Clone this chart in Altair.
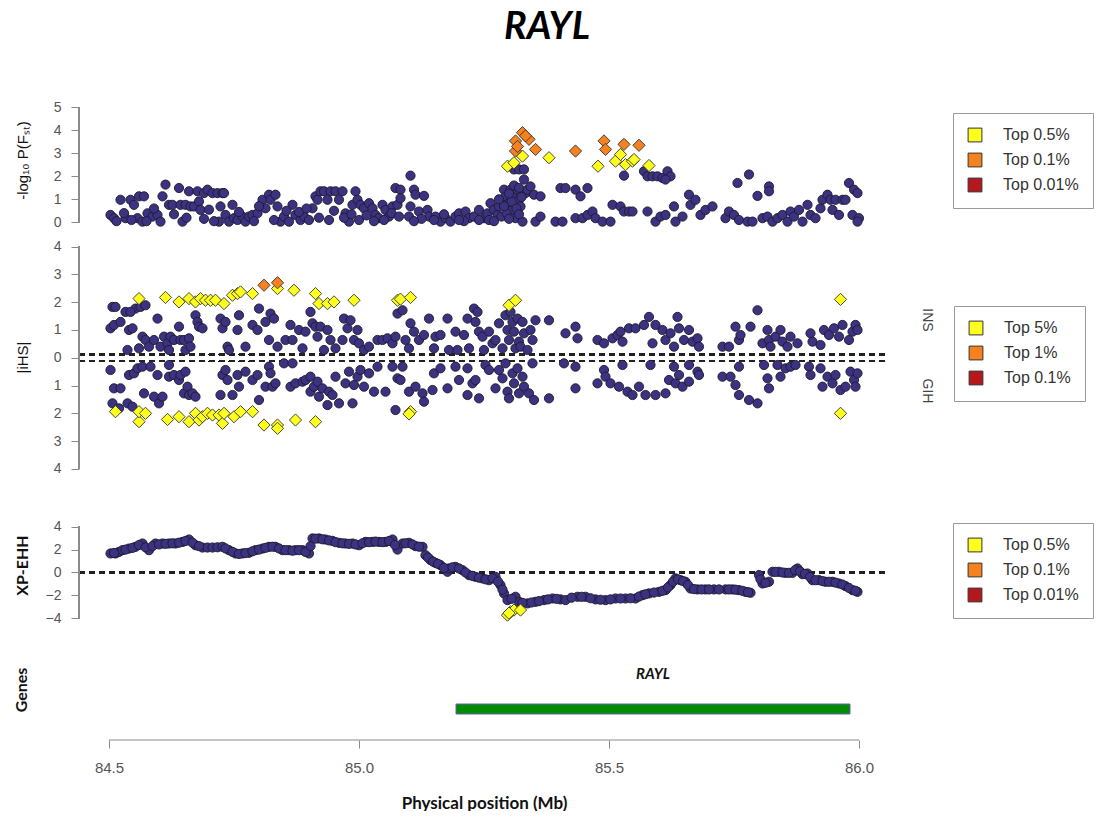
import altair as alt
import pandas as pd

# ---------------- data ----------------
TITLE = ["RAYL"]
X_TITLE = "Physical position (Mb)"
X_TICKS = [84.5, 85.0, 85.5, 86.0]

FST_CATS = ["Top 0.5%", "Top 0.1%", "Top 0.01%"]
IHS_CATS = ["Top 5%", "Top 1%", "Top 0.1%"]
XP_CATS = ["Top 0.5%", "Top 0.1%", "Top 0.01%"]
HIT_COLORS = ["#ffff1e", "#f5821f", "#b5181c"]
SIDE_LABELS = ["INS", "GIH"]

# -log10 P(Fst): background SNPs (position Mb, value)
FST_POINTS = [
    (84.503, 0.32), (84.510, 0.18), (84.523, 0.98), (84.533, 0.18), (84.543, 0.98), (84.550, 0.76),
    (84.560, 1.13), (84.570, 1.13), (84.557, 0.18), (84.567, 0.03), (84.577, 0.39), (84.587, 0.25),
    (84.597, 0.32), (84.603, 0.03), (84.613, 1.64), (84.607, 1.13), (84.620, 0.76), (84.627, 0.76),
    (84.640, 1.49), (84.647, 0.03), (84.643, 0.76), (84.653, 0.76), (84.660, 1.35), (84.663, 0.69),
    (84.670, 0.69), (84.677, 1.35), (84.680, 0.91), (84.683, 0.54), (84.690, 1.27), (84.697, 1.42),
    (84.707, 1.27), (84.717, 1.27), (84.720, 0.03), (84.723, 0.69), (84.727, 1.27), (84.730, 1.27),
    (84.733, 0.32), (84.740, 0.03), (84.747, 0.76), (84.750, 0.18), (84.757, 0.10), (84.767, 0.25),
    (84.773, 0.03), (84.780, 0.25), (84.787, 0.32), (84.797, 0.39), (84.807, 0.98), (84.813, 0.61),
    (84.820, 1.20), (84.823, 0.98), (84.833, 1.20), (84.837, 0.69), (84.843, 0.03), (84.850, 0.25),
    (84.860, 0.03), (84.867, 0.76), (84.873, 0.32), (84.883, 0.10), (84.890, 0.25), (84.900, 0.10),
    (84.907, 0.61), (84.913, 1.13), (84.917, 0.98), (84.923, 1.35), (84.930, 1.35), (84.937, 0.98),
    (84.943, 1.35), (84.953, 1.35), (84.960, 0.98), (84.967, 1.35), (84.973, 0.39), (84.980, 0.03),
    (84.987, 0.76), (84.993, 1.35), (84.997, 0.98), (85.003, 0.76), (85.010, 0.61), (85.020, 0.83),
    (85.027, 0.61), (85.033, 0.32), (85.040, 0.18), (85.047, 0.76), (85.053, 0.54), (85.060, 0.25),
    (85.067, 0.69), (85.073, 1.49), (85.077, 0.76),
    (84.515, 0.05), (84.530, 0.40), (84.545, 0.10), (84.575, 0.05), (84.590, 0.60), (84.630, 0.35),
    (84.655, 0.20), (84.690, 0.15), (84.700, 0.55), (84.710, 0.05), (84.760, 0.45), (84.790, 0.05),
    (84.800, 0.70), (84.830, 0.10), (84.855, 0.50), (84.880, 0.45), (84.895, 0.60), (84.920, 0.20),
    (84.940, 0.10), (84.950, 0.50), (84.970, 0.20), (84.985, 0.35), (85.000, 0.10), (85.015, 0.30),
    (85.030, 0.05), (85.050, 0.10), (85.065, 0.40),
    (85.103, 2.03), (85.083, 1.42), (85.083, 1.05), (85.110, 1.42), (85.113, 1.20), (85.130, 1.15),
    (85.103, 0.69), (85.100, 0.25), (85.080, 0.25), (85.120, 0.47), (85.137, 0.54), (85.140, 0.25),
    (85.153, 0.25), (85.163, 0.03), (85.173, 0.18), (85.183, 0.03), (85.193, 0.25), (85.200, 0.39),
    (85.213, 0.47), (85.220, 0.18), (85.230, 0.25), (85.240, 0.54), (85.250, 0.18), (85.257, 0.39),
    (85.263, 0.83), (85.270, 0.54), (85.277, 0.32), (85.280, 0.69), (85.287, 0.98), (85.290, 1.42),
    (85.293, 1.13), (85.300, 0.83), (85.303, 1.42), (85.307, 0.54), (85.310, 1.20), (85.313, 0.18),
    (85.317, 1.42), (85.320, 0.98), (85.323, 0.69), (85.327, 0.03), (85.330, 1.86), (85.333, 1.27),
    (85.337, 1.42), (85.343, 1.56), (85.350, 1.20), (85.363, 1.13), (85.310, 2.30), (85.320, 2.30),
    (85.330, 2.30), (85.353, 0.03), (85.363, 0.25), (85.393, 0.03), (85.407, 0.03), (85.403, 1.49),
    (85.413, 1.49), (85.433, 1.42), (85.443, 1.13), (85.457, 1.49), (85.433, 0.18), (85.447, 0.18),
    (85.457, 0.32), (85.467, 0.47), (85.473, 0.18), (85.487, 0.03), (85.503, 0.03), (85.507, 0.76),
    (85.523, 0.69), (85.530, 0.47), (85.540, 0.47), (85.547, 0.47), (85.577, 0.47), (85.593, 0.03),
    (85.603, 0.25), (85.613, 0.32), (85.630, 0.69), (85.633, 0.03), (85.647, 0.25), (85.660, 1.20),
    (85.663, 0.76), (85.673, 0.98), (85.683, 0.32), (85.693, 0.54), (85.707, 0.69), (85.733, 0.18),
    (85.740, 0.47), (85.750, 0.32), (85.760, 0.10), (85.777, 0.03), (85.787, 0.03), (85.757, 1.71),
    (85.780, 2.08), (85.797, 1.15), (85.820, 1.56), (85.820, 1.35), (85.807, 0.18), (85.817, 0.25),
    (85.827, 0.03), (85.837, 0.18), (85.847, 0.32), (85.857, 0.03), (85.863, 0.47), (85.870, 0.25),
    (85.880, 0.54), (85.887, 0.03), (85.897, 0.76), (85.903, 0.32), (85.913, 0.18), (85.923, 0.61),
    (85.927, 0.98), (85.937, 1.20), (85.943, 0.98), (85.947, 0.54), (85.953, 0.98), (85.960, 0.32),
    (85.967, 0.98), (85.973, 0.98), (85.980, 1.71), (85.987, 0.32), (85.990, 1.42), (85.997, 1.27),
    (86.000, 0.18), (85.997, 0.03), (85.530, 2.03), (85.570, 2.22), (85.577, 2.00), (85.587, 2.00),
    (85.597, 2.00), (85.607, 1.93), (85.617, 2.22), (85.623, 2.00), (85.613, 1.86),
    (85.260, 0.10), (85.270, 0.05), (85.285, 0.25), (85.295, 0.40), (85.300, 0.15), (85.305, 0.90),
    (85.315, 0.60), (85.320, 0.35), (85.325, 1.10), (85.290, 0.70), (85.280, 1.00), (85.310, 1.60),
    (85.300, 1.25), (85.320, 1.50), (85.240, 0.10), (85.210, 0.05), (85.200, 0.10), (85.170, 0.35),
    (85.150, 0.10), (85.125, 0.15), (85.110, 0.05),
]
# -log10 P(Fst): outlier SNPs (position, value, class)
FST_HITS = [
    (85.297, 2.44, "Top 0.5%"), (85.310, 2.59, "Top 0.5%"), (85.327, 2.88, "Top 0.5%"),
    (85.380, 2.81, "Top 0.5%"), (85.478, 2.44, "Top 0.5%"), (85.513, 2.66, "Top 0.5%"),
    (85.523, 2.95, "Top 0.5%"), (85.533, 2.51, "Top 0.5%"), (85.547, 2.66, "Top 0.5%"),
    (85.550, 2.73, "Top 0.5%"), (85.580, 2.47, "Top 0.5%"),
    (85.327, 3.90, "Top 0.1%"), (85.313, 3.54, "Top 0.1%"), (85.340, 3.61, "Top 0.1%"),
    (85.313, 3.10, "Top 0.1%"), (85.353, 3.17, "Top 0.1%"), (85.317, 3.30, "Top 0.1%"),
    (85.433, 3.10, "Top 0.1%"), (85.490, 3.54, "Top 0.1%"), (85.493, 3.17, "Top 0.1%"),
    (85.530, 3.39, "Top 0.1%"), (85.560, 3.35, "Top 0.1%"), (85.333, 3.76, "Top 0.1%"),
]

# |iHS|: positive = INS side (up), negative = GIH side (down)
IHS_POINTS = [
    (84.507, 1.83), (84.513, 1.83), (84.503, 1.06), (84.510, 1.18), (84.523, 1.29), (84.533, 1.65),
    (84.540, 1.00), (84.547, 1.06), (84.553, 1.77), (84.563, 1.83), (84.573, 1.89), (84.543, 1.65),
    (84.537, 0.28), (84.560, 0.34), (84.567, 0.76), (84.573, 0.64), (84.580, 0.40), (84.590, 0.64),
    (84.597, 1.41), (84.603, 0.40), (84.610, 0.76), (84.617, 0.52), (84.620, 0.28), (84.623, 0.76),
    (84.630, 0.64), (84.640, 1.12), (84.643, 0.64), (84.650, 0.64), (84.653, 0.28), (84.660, 0.70),
    (84.663, 0.40), (84.673, 1.53), (84.677, 1.29), (84.680, 1.12), (84.687, 1.06), (84.723, 1.41),
    (84.727, 1.06), (84.733, 1.29), (84.737, 0.40), (84.740, 0.28), (84.757, 1.00), (84.760, 1.53),
    (84.773, 0.40), (84.787, 1.18), (84.797, 1.00), (84.800, 1.77), (84.813, 1.29), (84.820, 0.64),
    (84.823, 1.59), (84.830, 1.41), (84.837, 0.40), (84.853, 0.64), (84.863, 1.18), (84.867, 0.64),
    (84.880, 1.00), (84.887, 0.34), (84.893, 0.94), (84.903, 1.65), (84.907, 1.24), (84.913, 1.12),
    (84.917, 0.76), (84.923, 1.12), (84.930, 0.28), (84.937, 1.00), (84.943, 0.64), (84.953, 0.34),
    (84.967, 0.64), (84.970, 1.41), (84.977, 1.06), (84.983, 1.35), (84.990, 0.64), (84.997, 1.00),
    (85.000, 0.52), (85.010, 0.28), (85.020, 0.40), (85.037, 0.64), (85.047, 0.64), (85.057, 0.70),
    (85.067, 0.52), (85.073, 0.76), (85.077, 1.59),
    (84.503, -0.44), (84.510, -1.10), (84.523, -1.10), (84.507, -1.64), (84.520, -1.82), (84.537, -1.64),
    (84.547, -1.76), (84.540, -0.62), (84.550, -0.56), (84.557, -0.38), (84.567, -0.32), (84.570, -1.28),
    (84.583, -0.32), (84.590, -1.40), (84.597, -0.62), (84.600, -1.64), (84.607, -1.40), (84.620, -0.26),
    (84.620, -0.68), (84.630, -0.62), (84.640, -0.80), (84.643, -0.62), (84.650, -1.28), (84.653, -0.50),
    (84.657, -1.04), (84.660, -1.34), (84.667, -1.28), (84.673, -1.40), (84.723, -1.34), (84.727, -0.62),
    (84.733, -0.44), (84.737, -0.80), (84.747, -1.34), (84.757, -0.62), (84.760, -1.04), (84.773, -0.50),
    (84.787, -0.80), (84.797, -0.62), (84.800, -1.52), (84.813, -1.04), (84.820, -0.32), (84.823, -0.56),
    (84.827, -1.04), (84.833, -0.92), (84.850, -0.20), (84.863, -1.04), (84.867, -0.20), (84.873, -0.92),
    (84.887, -0.86), (84.893, -0.80), (84.903, -0.68), (84.903, -1.22), (84.910, -1.04), (84.917, -0.86),
    (84.920, -1.40), (84.927, -1.10), (84.937, -1.70), (84.940, -1.22), (84.947, -1.34), (84.953, -0.68),
    (84.960, -1.64), (84.973, -0.92), (84.980, -0.50), (84.987, -1.64), (84.990, -0.98), (84.997, -0.68),
    (85.003, -0.44), (85.010, -1.04), (85.020, -0.56), (85.030, -1.22), (85.037, -0.32), (85.053, -1.22),
    (85.067, -0.32), (85.073, -1.88), (85.077, -0.74),
    (85.087, 1.71), (85.103, 1.24), (85.110, 0.94), (85.093, 0.64), (85.100, 0.34), (85.120, 0.64),
    (85.140, 1.41), (85.130, 0.82), (85.150, 0.34), (85.153, 0.76), (85.163, 0.82), (85.177, 1.41),
    (85.180, 0.28), (85.193, 0.94), (85.197, 0.28), (85.210, 0.82), (85.217, 1.41), (85.220, 0.34),
    (85.230, 1.77), (85.237, 1.65), (85.233, 1.29), (85.240, 0.94), (85.247, 0.76), (85.250, 0.28),
    (85.260, 0.94), (85.267, 0.52), (85.273, 0.64), (85.280, 1.24), (85.287, 0.34), (85.293, 1.53),
    (85.297, 1.00), (85.300, 0.64), (85.303, 1.65), (85.307, 1.29), (85.310, 0.94), (85.313, 0.34),
    (85.317, 1.41), (85.320, 0.58), (85.323, 0.40), (85.327, 1.29), (85.330, 0.88), (85.337, 0.28),
    (85.343, 1.00), (85.347, 0.64), (85.353, 1.35), (85.380, 1.35), (85.413, 0.88), (85.433, 1.12),
    (85.437, 0.70), (85.477, 0.64), (85.490, 0.52), (85.507, 0.70), (85.517, 0.82), (85.523, 0.94),
    (85.527, 0.58), (85.540, 1.06), (85.553, 1.06), (85.570, 1.18), (85.580, 1.47), (85.587, 0.52),
    (85.593, 1.18), (85.607, 1.00), (85.613, 0.64), (85.623, 0.88), (85.630, 0.40), (85.637, 1.47),
    (85.640, 1.06), (85.650, 0.64), (85.660, 1.00), (85.667, 0.58), (85.677, 0.70), (85.680, 0.40),
    (85.727, 0.40), (85.740, 0.40), (85.753, 1.12), (85.760, 0.64), (85.763, 0.82), (85.783, 1.12),
    (85.797, 1.71), (85.807, 0.52), (85.817, 1.00), (85.820, 0.64), (85.823, 0.40), (85.833, 0.76),
    (85.843, 1.00), (85.847, 0.58), (85.857, 0.40), (85.863, 0.76), (85.877, 0.52), (85.903, 0.88),
    (85.907, 0.58), (85.923, 0.46), (85.930, 1.00), (85.940, 0.82), (85.950, 1.06), (85.960, 0.76),
    (85.967, 1.18), (85.980, 0.64), (85.987, 0.94), (85.993, 1.18), (85.997, 1.00),
    (85.083, -0.80), (85.087, -0.32), (85.100, -1.22), (85.113, -1.04), (85.127, -1.28), (85.130, -1.58),
    (85.147, -1.16), (85.150, -0.56), (85.163, -0.38), (85.177, -1.10), (85.193, -0.32), (85.200, -0.80),
    (85.217, -0.38), (85.217, -1.34), (85.227, -0.92), (85.233, -0.80), (85.240, -1.46), (85.253, -0.26),
    (85.260, -0.44), (85.273, -1.10), (85.280, -0.44), (85.287, -0.74), (85.293, -0.20), (85.297, -1.22),
    (85.300, -1.46), (85.307, -0.56), (85.310, -0.92), (85.317, -0.38), (85.320, -1.28), (85.327, -0.68),
    (85.330, -1.04), (85.340, -1.28), (85.347, -0.20), (85.350, -1.52), (85.380, -1.46), (85.410, -0.20),
    (85.433, -0.32), (85.433, -1.10), (85.477, -0.92), (85.490, -0.44), (85.493, -0.68), (85.503, -0.92),
    (85.520, -1.04), (85.527, -0.26), (85.537, -1.22), (85.547, -1.34), (85.560, -1.04), (85.573, -1.34),
    (85.583, -0.26), (85.593, -1.34), (85.613, -1.28), (85.620, -0.80), (85.630, -0.32), (85.633, -0.92),
    (85.640, -0.62), (85.647, -1.04), (85.660, -0.26), (85.660, -0.86), (85.677, -0.50), (85.680, -0.62),
    (85.727, -0.68), (85.743, -0.68), (85.753, -0.98), (85.760, -0.32), (85.760, -1.34), (85.780, -1.52),
    (85.797, -1.64), (85.810, -0.26), (85.817, -0.74), (85.820, -1.10), (85.837, -0.26), (85.843, -0.68),
    (85.853, -0.38), (85.863, -0.32), (85.873, -0.26), (85.900, -0.32), (85.903, -0.62), (85.923, -0.38),
    (85.927, -1.04), (85.937, -0.68), (85.947, -0.92), (85.953, -0.62), (85.963, -1.16), (85.973, -1.04),
    (85.983, -0.50), (85.990, -0.80), (85.997, -0.56), (85.993, -1.04),
]
IHS_HITS = [
    (84.560, 2.13, "Top 5%"), (84.613, 2.17, "Top 5%"), (84.640, 2.01, "Top 5%"), (84.660, 2.13, "Top 5%"),
    (84.673, 2.01, "Top 5%"), (84.683, 2.13, "Top 5%"), (84.693, 2.07, "Top 5%"), (84.703, 2.07, "Top 5%"),
    (84.713, 2.07, "Top 5%"), (84.730, 1.95, "Top 5%"), (84.747, 2.25, "Top 5%"), (84.757, 2.31, "Top 5%"),
    (84.763, 2.37, "Top 5%"), (84.787, 2.31, "Top 5%"), (84.837, 2.49, "Top 5%"), (84.870, 2.43, "Top 5%"),
    (84.913, 2.31, "Top 5%"), (84.920, 1.95, "Top 5%"), (84.937, 1.95, "Top 5%"), (84.950, 2.01, "Top 5%"),
    (84.990, 2.07, "Top 5%"), (85.077, 2.07, "Top 5%"), (85.083, 2.11, "Top 5%"), (85.103, 2.17, "Top 5%"),
    (85.300, 1.89, "Top 5%"), (85.313, 2.07, "Top 5%"), (85.963, 2.10, "Top 5%"),
    (84.810, 2.61, "Top 1%"), (84.837, 2.70, "Top 1%"),
    (84.513, -1.94, "Top 5%"), (84.560, -2.30, "Top 5%"), (84.560, -1.94, "Top 5%"), (84.573, -2.00, "Top 5%"),
    (84.617, -2.22, "Top 5%"), (84.640, -2.12, "Top 5%"), (84.660, -2.30, "Top 5%"), (84.673, -2.00, "Top 5%"),
    (84.680, -2.24, "Top 5%"), (84.687, -2.12, "Top 5%"), (84.697, -2.00, "Top 5%"), (84.707, -2.06, "Top 5%"),
    (84.720, -2.06, "Top 5%"), (84.727, -2.36, "Top 5%"), (84.730, -2.00, "Top 5%"), (84.750, -2.12, "Top 5%"),
    (84.763, -1.94, "Top 5%"), (84.787, -1.94, "Top 5%"), (84.810, -2.42, "Top 5%"), (84.837, -2.42, "Top 5%"),
    (84.837, -2.54, "Top 5%"), (84.873, -2.24, "Top 5%"), (84.913, -2.30, "Top 5%"), (85.103, -1.94, "Top 5%"),
    (85.100, -2.02, "Top 5%"), (85.963, -2.00, "Top 5%"),
]

# XP-EHH
XP_POINTS = [
    (84.503, 1.66), (84.513, 1.66), (84.520, 1.80), (84.527, 1.95), (84.540, 2.09), (84.553, 2.24),
    (84.567, 2.53), (84.580, 1.95), (84.593, 2.53), (84.607, 2.53), (84.620, 2.53), (84.633, 2.53),
    (84.647, 2.67), (84.660, 2.88), (84.673, 2.38), (84.687, 2.18), (84.697, 2.18), (84.707, 2.18),
    (84.717, 2.20), (84.727, 2.24), (84.740, 1.95), (84.753, 1.66), (84.767, 1.66), (84.780, 1.72),
    (84.793, 1.95), (84.807, 2.09), (84.820, 2.24), (84.833, 2.24), (84.847, 1.95), (84.860, 1.95),
    (84.873, 1.95), (84.887, 1.95), (84.900, 1.66), (84.907, 2.97), (84.920, 2.97), (84.933, 2.88),
    (84.947, 2.76), (84.960, 2.59), (84.973, 2.53), (84.987, 2.53), (85.000, 2.38), (85.013, 2.67),
    (85.027, 2.67), (85.040, 2.67), (85.053, 2.67), (85.067, 2.88), (85.077, 2.00), (85.087, 2.53),
    (85.100, 2.59), (85.113, 2.30), (85.127, 2.24), (85.133, 1.51), (85.143, 1.08), (85.153, 0.84),
    (85.163, 0.64), (85.177, 0.06), (85.180, 0.35), (85.193, 0.49), (85.207, 0.20), (85.220, -0.23),
    (85.233, -0.38), (85.247, -0.52), (85.260, -0.67), (85.273, -0.38), (85.283, -1.10), (85.290, -1.83),
    (85.297, -2.41), (85.313, -2.12), (85.320, -2.56), (85.337, -2.70), (85.353, -2.56), (85.370, -2.41),
    (85.387, -2.27), (85.403, -2.35), (85.413, -2.41), (85.437, -2.12), (85.453, -2.12), (85.473, -2.35),
    (85.493, -2.41), (85.513, -2.27), (85.533, -2.27), (85.553, -2.27), (85.567, -1.98), (85.580, -1.83),
    (85.600, -1.69), (85.613, -1.54), (85.623, -1.10), (85.633, -0.52), (85.643, -0.67), (85.653, -0.81),
    (85.663, -1.40), (85.677, -1.48), (85.693, -1.48), (85.710, -1.48), (85.733, -1.48), (85.747, -1.48),
    (85.760, -1.54), (85.773, -1.69), (85.783, -1.77), (85.800, -0.23), (85.807, -0.96), (85.820, -0.81),
    (85.827, 0.06), (85.840, 0.06), (85.853, -0.03), (85.867, -0.03), (85.877, 0.35), (85.887, -0.15),
    (85.897, -0.09), (85.907, -0.67), (85.920, -0.67), (85.933, -0.81), (85.947, -0.81), (85.960, -0.96),
    (85.973, -1.19), (85.987, -1.54), (85.997, -1.69),
    (84.510, 1.70), (84.533, 2.00), (84.547, 2.15), (84.560, 2.40), (84.573, 2.20), (84.587, 2.30),
    (84.600, 2.45), (84.613, 2.50), (84.627, 2.55), (84.640, 2.60), (84.653, 2.75), (84.667, 2.60),
    (84.680, 2.30), (84.733, 2.10), (84.747, 1.80), (84.760, 1.62), (84.773, 1.70), (84.787, 1.85),
    (84.800, 2.00), (84.813, 2.15), (84.827, 2.25), (84.840, 2.10), (84.853, 1.95), (84.867, 1.90),
    (84.880, 1.95), (84.893, 1.80), (84.903, 2.30), (84.913, 2.95), (84.927, 2.90), (84.940, 2.80),
    (84.953, 2.65), (84.967, 2.55), (84.980, 2.50), (84.993, 2.45), (85.007, 2.55), (85.020, 2.65),
    (85.033, 2.70), (85.047, 2.65), (85.060, 2.75), (85.072, 2.40), (85.093, 2.55), (85.107, 2.45),
    (85.120, 2.25), (85.138, 1.30), (85.148, 0.95), (85.158, 0.75), (85.170, 0.40), (85.187, 0.45),
    (85.200, 0.35), (85.213, 0.00), (85.227, -0.30), (85.240, -0.45), (85.253, -0.60), (85.267, -0.50),
    (85.278, -0.80), (85.287, -1.50), (85.305, -2.30), (85.327, -2.65), (85.345, -2.62), (85.360, -2.50),
    (85.378, -2.35), (85.395, -2.30), (85.425, -2.20), (85.445, -2.12), (85.463, -2.25), (85.483, -2.38),
    (85.503, -2.35), (85.523, -2.27), (85.543, -2.25), (85.560, -2.10), (85.573, -1.90), (85.590, -1.75),
    (85.607, -1.60), (85.618, -1.30), (85.628, -0.80), (85.638, -0.60), (85.648, -0.75), (85.658, -1.10),
    (85.670, -1.45), (85.685, -1.48), (85.700, -1.48), (85.720, -1.48), (85.740, -1.48), (85.753, -1.50),
    (85.767, -1.60), (85.778, -1.72), (85.803, -0.60), (85.813, -0.90), (85.833, 0.05), (85.847, 0.00),
    (85.860, -0.03), (85.872, 0.20), (85.882, 0.10), (85.892, -0.12), (85.902, -0.40), (85.913, -0.67),
    (85.927, -0.75), (85.940, -0.81), (85.953, -0.88), (85.967, -1.05), (85.980, -1.35), (85.993, -1.60),
]
XP_HITS = [
    (85.303, -3.43, "Top 0.5%"), (85.297, -3.72, "Top 0.5%"), (85.310, -3.28, "Top 0.5%"),
    (85.323, -3.28, "Top 0.5%"), (85.300, -3.55, "Top 0.5%"),
]

GENE_NAME = ["RAYL"]
GENE_START = [85.194]
GENE_END = [85.982]

# ---------------- styling ----------------
BLUE = "#3c3282"
EDGE = "#1c1b2b"
AXIS_GREY = "#8a8a8a"
LABEL_GREY = "#555555"
W = 810
XS = alt.Scale(domain=[84.44, 86.06], nice=False, zero=False)


def xq(field, axis=None):
    return alt.X(field, type="quantitative", scale=XS, axis=axis)


def hit_legend(lx, ly):
    return alt.Legend(
        title=None, orient="none", legendX=lx, legendY=ly, symbolType="square",
        symbolSize=190, symbolStrokeColor="#333333", symbolStrokeWidth=1, symbolOpacity=1,
        labelFontSize=16, labelColor="#333333", labelFont="Liberation Sans",
        padding=14, strokeColor="#9a9a9a", fillColor="white", rowPadding=7, labelOffset=20,
    )


def yaxis(values, title, title_y, bold=False, label_expr=None):
    kw = dict(values=values, domain=False, grid=False, title=title, titleX=-57, titleY=title_y,
              titleAngle=-90, titleAlign="center", titleBaseline="middle",
              titleFont="Lato" if bold else "Liberation Sans",
              titleFontSize=16 if bold else 15, titleFontWeight="bold" if bold else "normal",
              titleColor="#111111")
    if label_expr:
        kw["labelExpr"] = label_expr
    return alt.Axis(**kw)


def scatter_panel(points, hits, cats, ydom, ytick, axis, height, legend_xy, extra=None, dashes=None):
    bg = pd.DataFrame(points, columns=["pos", "val"])
    hi = pd.DataFrame(hits, columns=["pos", "val", "cat"])
    ys = alt.Scale(domain=ydom, nice=False, zero=False)
    yenc = alt.Y("val:Q", scale=ys, axis=axis)
    layers = []
    if dashes is not None:
        for d in dashes:
            layers.append(
                alt.Chart(bg).mark_rule(color="#222222", strokeDash=[6, 4], strokeWidth=1.6)
                .encode(x=alt.value(0), x2=alt.value(W), y=alt.Y(datum=d, scale=ys, axis=axis))
            )
    layers.append(
        alt.Chart(bg).mark_rule(color=AXIS_GREY, strokeWidth=1)
        .encode(x=alt.value(0), y=alt.Y(datum=ytick[0], scale=ys, axis=axis), y2=alt.Y2(datum=ytick[-1]))
    )
    layers.append(
        alt.Chart(bg).mark_circle(size=85, opacity=1, fill=BLUE, stroke=EDGE, strokeWidth=0.9)
        .encode(x=xq("pos"), y=yenc)
    )
    layers.append(
        alt.Chart(hi).mark_point(shape="diamond", size=150, filled=True, opacity=1,
                                 stroke="#333333", strokeWidth=0.9)
        .encode(x=xq("pos"), y=yenc,
                fill=alt.Fill("cat:N", scale=alt.Scale(domain=cats, range=HIT_COLORS),
                              legend=hit_legend(*legend_xy)))
    )
    if extra:
        layers.extend(extra)
    return alt.layer(*layers).properties(width=W, height=height)


# Title (inside panel 1)
title_layer = alt.Chart(pd.DataFrame({"t": TITLE})).mark_text(
    font="Lato", fontSize=38, fontWeight="bold", fontStyle="italic", color="black",
    align="center", baseline="middle"
).encode(x=alt.value(468), y=alt.value(28), text="t:N")

p_fst = scatter_panel(
    FST_POINTS, FST_HITS, FST_CATS, [-0.465, 9.67], [0, 5],
    yaxis([0, 1, 2, 3, 4, 5], "-log\u2081\u2080 P(F\u209b\u209c)", 160), 233, (874, 113),
    extra=[title_layer],
)

# Population side labels of the iHS panel (INS above, GIH below)
side_ins = alt.Chart(pd.DataFrame({"t": SIDE_LABELS[:1]})).mark_text(
    font="Liberation Sans", fontSize=14, color="#444444", angle=90, align="center", baseline="middle"
).encode(x=alt.value(848), y=alt.value(87), text="t:N")
side_gih = alt.Chart(pd.DataFrame({"t": SIDE_LABELS[1:]})).mark_text(
    font="Liberation Sans", fontSize=14, color="#444444", angle=90, align="center", baseline="middle"
).encode(x=alt.value(848), y=alt.value(158), text="t:N")

p_ihs = scatter_panel(
    IHS_POINTS, IHS_HITS, IHS_CATS, [-5.01, 4.49], [-4, 4],
    yaxis(list(range(-4, 5)), "|iHS|", 124, label_expr="'' + abs(datum.value)"), 264, (875, 73),
    dashes=[0.12, -0.12], extra=[side_ins, side_gih],
)

p_xp = scatter_panel(
    XP_POINTS, XP_HITS, XP_CATS, [-6.33, 6.59], [-4, 4],
    yaxis([-4, -2, 0, 2, 4], "XP-EHH", 68, bold=True), 148, (874, 26),
    dashes=[0],
)

gene_df = pd.DataFrame({"name": GENE_NAME, "start": GENE_START, "end": GENE_END})
x_axis = alt.Axis(values=X_TICKS, format=".1f", domain=False, grid=False, tickSize=8,
                  labelPadding=12, labelFontSize=15, title=X_TITLE, titleFont="Lato",
                  titleFontSize=17, titleFontWeight="bold", titlePadding=20, titleColor="#111111")

gene_bar = alt.Chart(gene_df).mark_rect(fill="#008c00", stroke="#6a5fc0", strokeWidth=1).encode(
    x=xq("start:Q", x_axis), x2="end:Q", y=alt.value(59), y2=alt.value(69)
)
gene_lbl = alt.Chart(gene_df).transform_calculate(mid="(datum.start + datum.end) / 2").mark_text(
    font="Lato", fontSize=15, fontWeight="bold", fontStyle="italic", color="#111111"
).encode(x=xq("mid:Q", x_axis), y=alt.value(29), text="name:N")
x_line = alt.Chart(gene_df).mark_rule(color=AXIS_GREY, strokeWidth=1).encode(
    x=alt.X(datum=X_TICKS[0], scale=XS, axis=x_axis), x2=alt.X2(datum=X_TICKS[-1]), y=alt.value(95)
)
genes_title = alt.Chart(pd.DataFrame({"t": ["Genes"]})).mark_text(
    font="Lato", fontSize=16, fontWeight="bold", color="#111111", angle=270,
    align="center", baseline="middle"
).encode(x=alt.value(-57), y=alt.value(45), text="t:N")

p_gene = alt.layer(gene_bar, gene_lbl, x_line, genes_title).properties(width=W, height=95)

chart = (
    alt.vconcat(p_fst, p_ihs, p_xp, p_gene, spacing=0)
    .resolve_scale(y="independent", fill="independent")
    .resolve_legend(fill="independent")
    .properties(padding={"left": 14, "top": 0, "right": 0, "bottom": 0})
    .configure_view(stroke=None)
    .configure_axis(labelColor=LABEL_GREY, labelFont="Liberation Sans", labelFontSize=14,
                    tickColor=AXIS_GREY, tickSize=8, labelPadding=10, domainColor=AXIS_GREY)
)

chart.save("out.html", embed_options={"renderer": "svg", "actions": False})
